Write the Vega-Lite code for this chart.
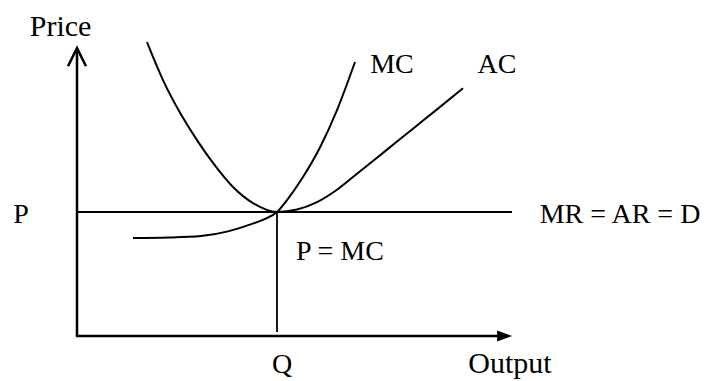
{
  "$schema": "https://vega.github.io/schema/vega-lite/v6.json",
  "width": 709,
  "height": 381,
  "autosize": {"type": "fit", "contains": "padding"},
  "padding": 0,
  "background": "white",
  "config": {"view": {"stroke": null}},
  "datasets": {
    "curves": [
      {"curve": "MC", "output": 1.4, "price": 3.95},
      {"curve": "MC", "output": 2.3, "price": 3.97},
      {"curve": "MC", "output": 3.1, "price": 4.03},
      {"curve": "MC", "output": 3.8, "price": 4.23},
      {"curve": "MC", "output": 4.3, "price": 4.48},
      {"curve": "MC", "output": 4.7, "price": 4.72},
      {"curve": "MC", "output": 5.0, "price": 5.0},
      {"curve": "MC", "output": 5.25, "price": 5.48},
      {"curve": "MC", "output": 5.65, "price": 6.41},
      {"curve": "MC", "output": 6.08, "price": 7.62},
      {"curve": "MC", "output": 6.5, "price": 9.11},
      {"curve": "MC", "output": 6.95, "price": 11.05},
      {"curve": "AC", "output": 1.75, "price": 11.85},
      {"curve": "AC", "output": 2.15, "price": 10.32},
      {"curve": "AC", "output": 2.58, "price": 8.99},
      {"curve": "AC", "output": 3.0, "price": 7.9},
      {"curve": "AC", "output": 3.4, "price": 6.98},
      {"curve": "AC", "output": 3.9, "price": 6.01},
      {"curve": "AC", "output": 4.4, "price": 5.36},
      {"curve": "AC", "output": 5.0, "price": 5.0},
      {"curve": "AC", "output": 5.5, "price": 5.1},
      {"curve": "AC", "output": 6.0, "price": 5.4},
      {"curve": "AC", "output": 6.5, "price": 5.9},
      {"curve": "AC", "output": 7.0, "price": 6.54},
      {"curve": "AC", "output": 7.5, "price": 7.19},
      {"curve": "AC", "output": 8.0, "price": 7.84},
      {"curve": "AC", "output": 8.5, "price": 8.49},
      {"curve": "AC", "output": 9.0, "price": 9.14},
      {"curve": "AC", "output": 9.65, "price": 9.99}
    ],
    "axes": [
      {"x": 0, "y": 0, "x2": 0, "y2": 11.58},
      {"x": -0.03, "y": 0, "x2": 10.55, "y2": 0}
    ],
    "guides": [
      {"x": 0, "y": 5, "x2": 10.875, "y2": 5},
      {"x": 5, "y": 5, "x2": 5, "y2": 0.16}
    ],
    "arrowUp": [
      {"output": -0.225, "price": 10.88},
      {"output": 0, "price": 11.61},
      {"output": 0.225, "price": 10.88}
    ],
    "arrowRight": [{"output": 10.69, "price": 0}],
    "labels": [
      {"label": "MC", "output": 7.875, "price": 10.6},
      {"label": "AC", "output": 10.5, "price": 10.6},
      {"label": "P", "output": -1.4, "price": 4.56},
      {"label": "MR = AR = D", "output": 13.575, "price": 4.56},
      {"label": "P = MC", "output": 6.575, "price": 3.06},
      {"label": "Q", "output": 5.125, "price": -1.49}
    ],
    "words": [
      {"label": "Price", "output": -0.41, "price": 12.1},
      {"label": "Output", "output": 10.825, "price": -1.49}
    ]
  },
  "layer": [
    {
      "data": {"name": "axes"},
      "mark": {"type": "rule", "strokeWidth": 2.5, "color": "black"},
      "encoding": {
        "x": {"field": "x", "type": "quantitative", "scale": {"domain": [-1.925, 15.8], "nice": false, "zero": false}, "axis": null},
        "y": {"field": "y", "type": "quantitative", "scale": {"domain": [-1.815, 13.55], "nice": false, "zero": false}, "axis": null},
        "x2": {"field": "x2"},
        "y2": {"field": "y2"}
      }
    },
    {
      "data": {"name": "guides"},
      "mark": {"type": "rule", "strokeWidth": 1.8, "color": "black"},
      "encoding": {
        "x": {"field": "x", "type": "quantitative"},
        "y": {"field": "y", "type": "quantitative"},
        "x2": {"field": "x2"},
        "y2": {"field": "y2"}
      }
    },
    {
      "data": {"name": "curves"},
      "mark": {"type": "line", "interpolate": "monotone", "strokeWidth": 2, "color": "black"},
      "encoding": {
        "x": {"field": "output", "type": "quantitative"},
        "y": {"field": "price", "type": "quantitative"},
        "detail": {"field": "curve"},
        "order": {"field": "output", "type": "quantitative"}
      }
    },
    {
      "data": {"name": "arrowUp"},
      "mark": {"type": "line", "strokeWidth": 2.5, "color": "black", "strokeJoin": "miter"},
      "encoding": {
        "x": {"field": "output", "type": "quantitative"},
        "y": {"field": "price", "type": "quantitative"},
        "order": {"field": "output", "type": "quantitative"}
      }
    },
    {
      "data": {"name": "arrowRight"},
      "mark": {"type": "point", "shape": "M -1 -0.72 L 1 0 L -1 0.72 Z", "filled": true, "size": 225, "color": "black", "opacity": 1},
      "encoding": {
        "x": {"field": "output", "type": "quantitative"},
        "y": {"field": "price", "type": "quantitative"}
      }
    },
    {
      "data": {"name": "labels"},
      "mark": {"type": "text", "font": "Liberation Serif", "fontSize": 28, "align": "center", "baseline": "alphabetic", "color": "black"},
      "encoding": {
        "x": {"field": "output", "type": "quantitative"},
        "y": {"field": "price", "type": "quantitative"},
        "text": {"field": "label"}
      }
    },
    {
      "data": {"name": "words"},
      "mark": {"type": "text", "font": "Liberation Serif", "fontSize": 30, "align": "center", "baseline": "alphabetic", "color": "black"},
      "encoding": {
        "x": {"field": "output", "type": "quantitative"},
        "y": {"field": "price", "type": "quantitative"},
        "text": {"field": "label"}
      }
    }
  ]
}
